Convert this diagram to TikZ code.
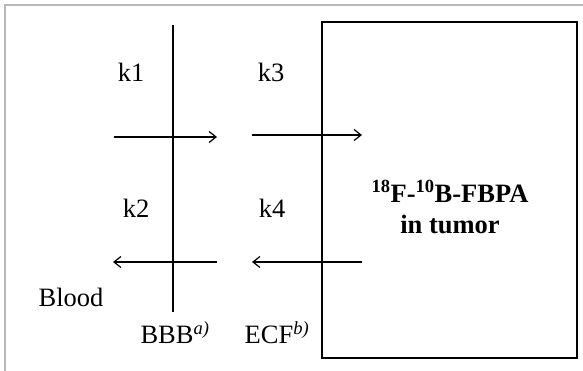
\documentclass[tikz,border=0pt]{standalone}
\usepackage{fontspec}
\setmainfont{Liberation Serif}
\usetikzlibrary{arrows.meta}
\begin{document}
\begin{tikzpicture}[x=1pt,y=-1pt,
  lbl/.style={inner sep=0pt,font=\fontsize{26.5}{30}\selectfont},
  ttl/.style={inner sep=0pt,align=center,font=\fontsize{26.5}{31}\selectfont\bfseries},
  flow/.style={line width=1.2pt,-{Straight Barb[length=7pt,width=11pt,line width=1.2pt]}},
  wall/.style={line width=1.4pt}]
\useasboundingbox (0,0) rectangle (583,371);
\draw[line width=1.8pt,color=black!28] (5,371) -- (5,5) -- (583,5);
% tumor box
\node[draw,line width=1.8pt,minimum width=255pt,minimum height=336pt,inner sep=0pt,anchor=north west] (tumor) at (321,21) {};
\node[ttl] (title) at (450,207) {\textsuperscript{18}F-\textsuperscript{10}B-FBPA\\in tumor};
% BBB wall
\coordinate (bbbtop) at (173,25);
\coordinate (bbbbot) at (173,312);
\draw[wall] (bbbtop) -- (bbbbot);
% arrows
\coordinate (a1s) at (114,137); \coordinate (a1e) at (217,137);
\coordinate (a3s) at (252,135); \coordinate (a3e) at (362,135);
\coordinate (a2s) at (217,262); \coordinate (a2e) at (113,262);
\coordinate (a4s) at (362,262); \coordinate (a4e) at (252,262);
\draw[flow] (a1s) -- (a1e);
\draw[flow] (a3s) -- (a3e);
\draw[flow] (a2s) -- (a2e);
\draw[flow] (a4s) -- (a4e);
% labels
\node[lbl] (k1) at (131,72) {k1};
\node[lbl] (k3) at (271,72) {k3};
\node[lbl] (k2) at (136,208) {k2};
\node[lbl] (k4) at (272,208) {k4};
\node[lbl] (blood) at (71,297) {Blood};
\node[lbl] (bbb) at (175,333) {BBB\textsuperscript{\itshape a)}};
\node[lbl] (ecf) at (277,333) {ECF\textsuperscript{\itshape b)}};
\end{tikzpicture}
\end{document}
